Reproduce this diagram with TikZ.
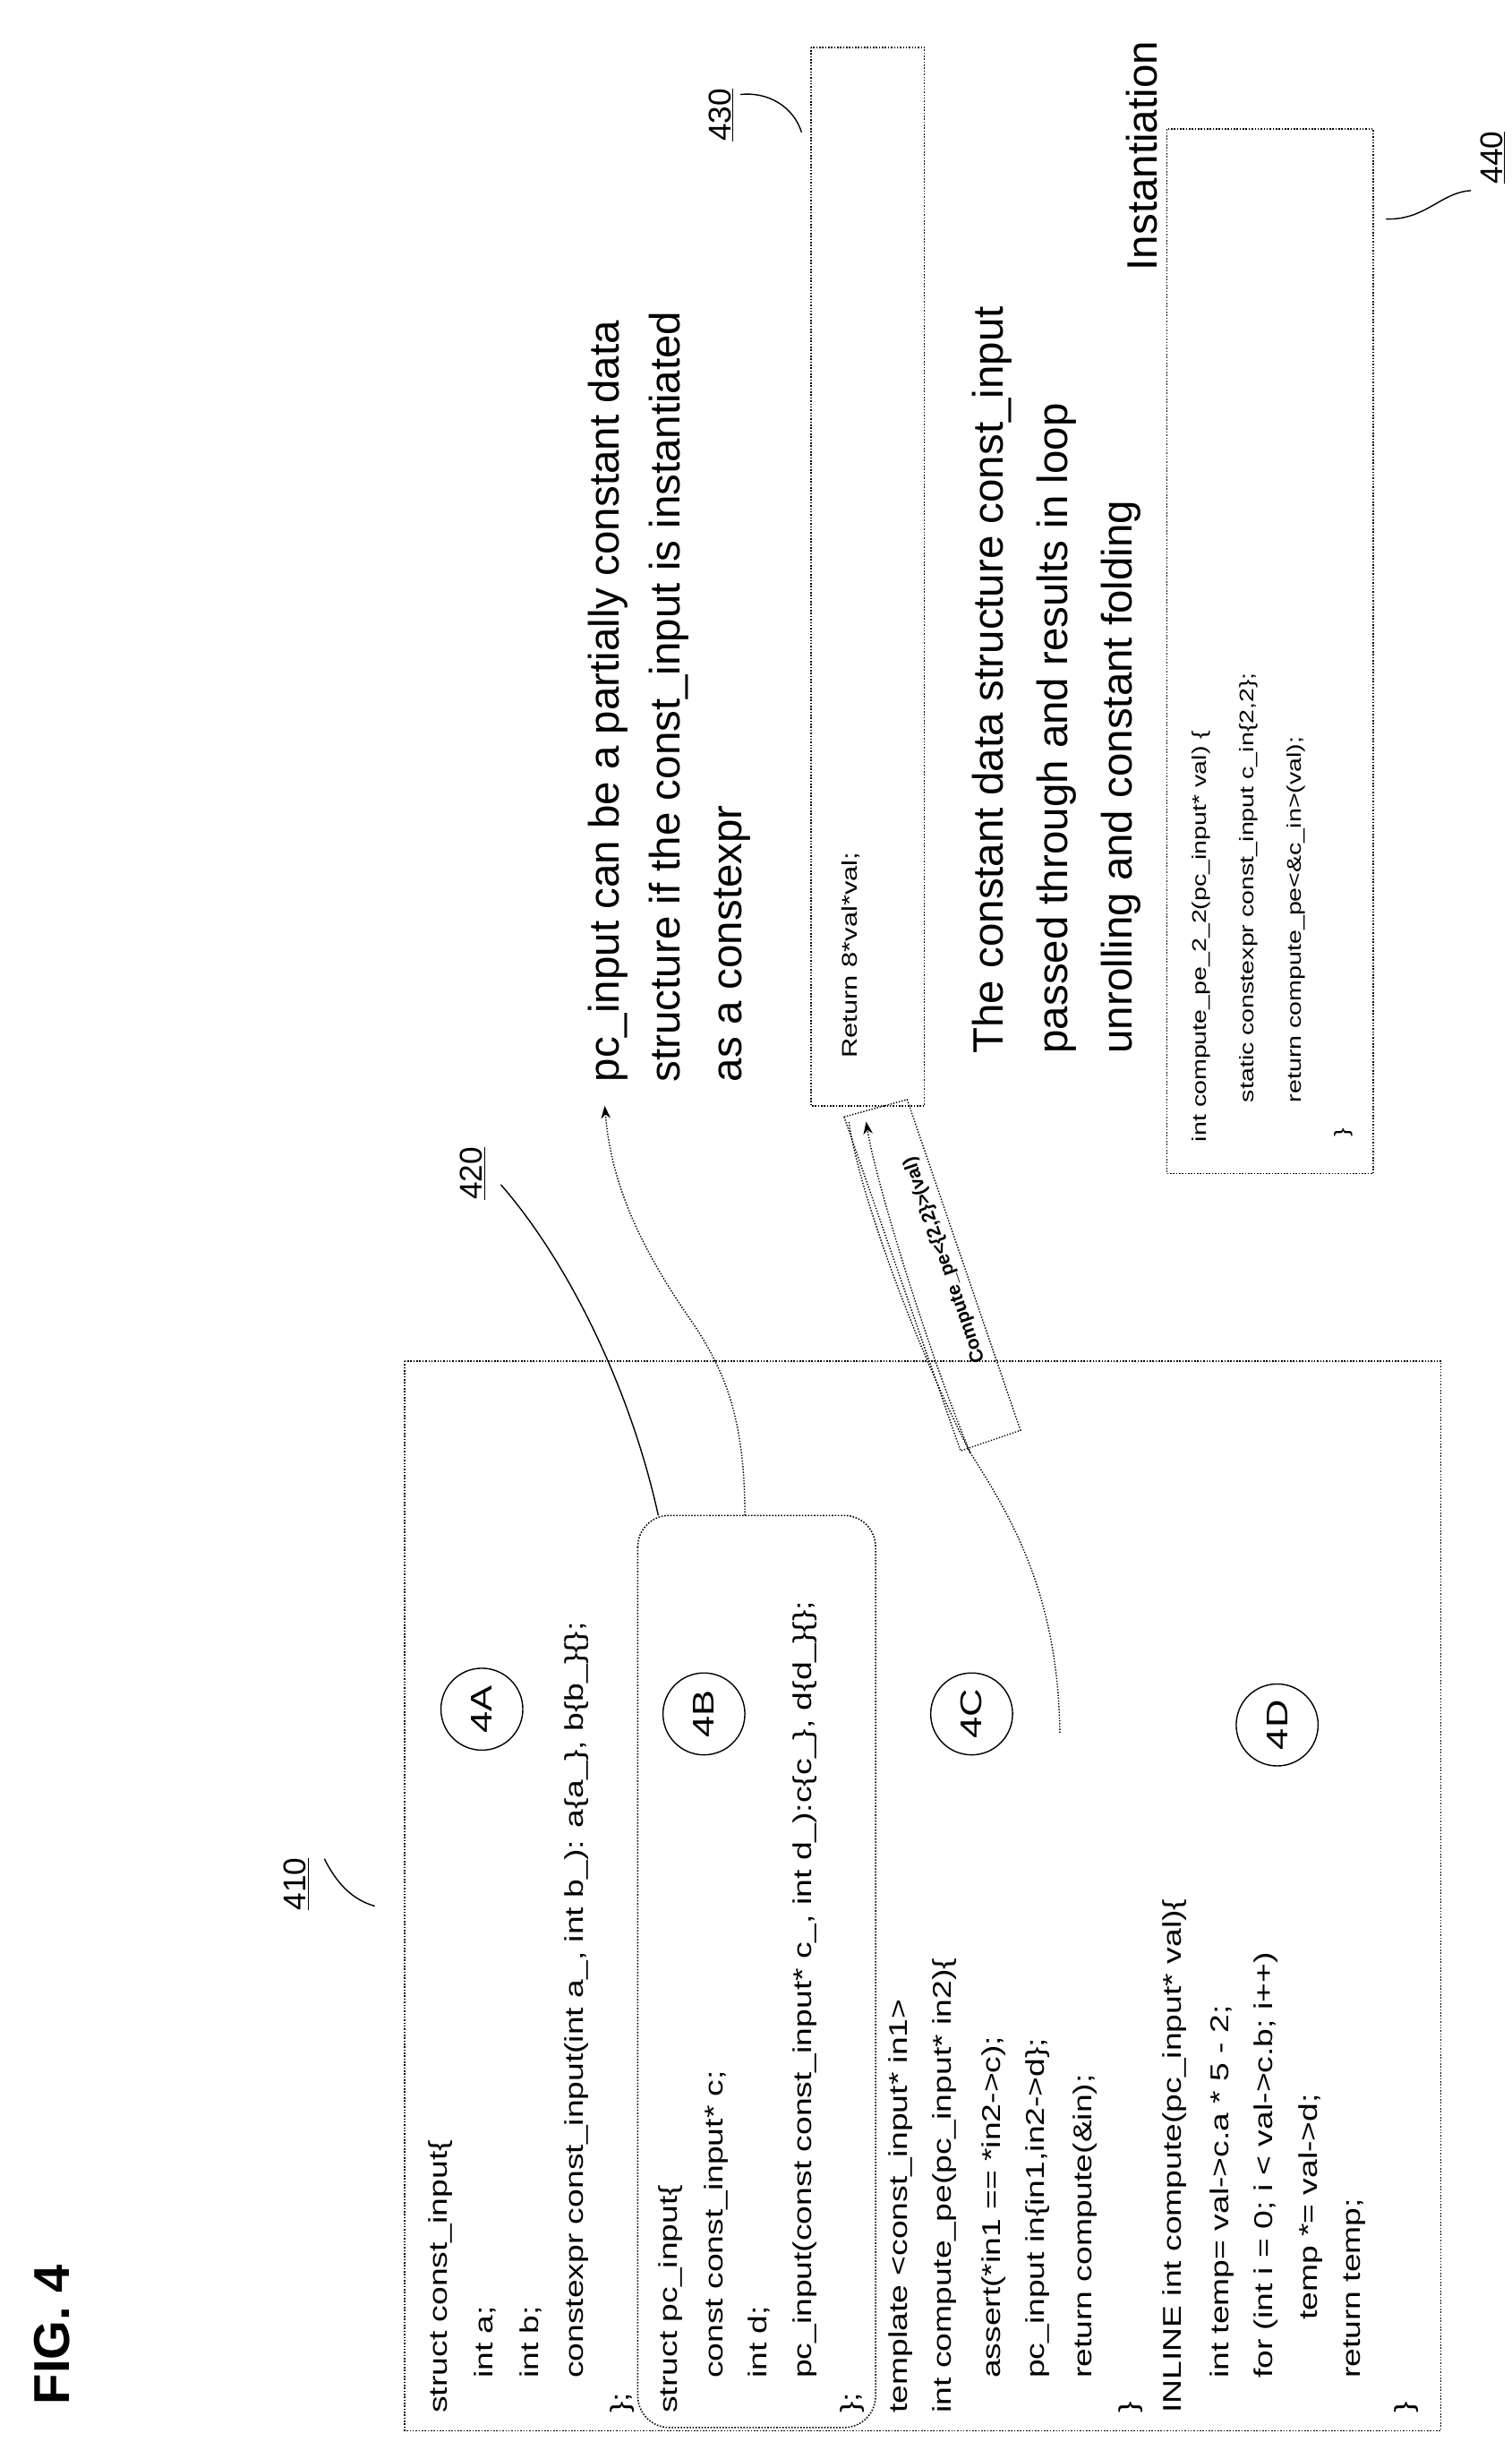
\documentclass[tikz,border=0pt]{standalone}
\usepackage{fontspec}
\setmainfont{Liberation Sans}
\newfontfamily\codefont[FakeStretch=1.3]{Liberation Sans}
\usetikzlibrary{arrows.meta}
\begin{document}
\begin{tikzpicture}[x=1pt,y=-1pt,
  box/.style={draw,densely dotted,line width=0.9pt},
  code/.style={rotate=90,anchor=west,inner sep=0pt,font=\codefont\fontsize{16.3}{18}\selectfont},
  code2/.style={rotate=90,anchor=west,inner sep=0pt,font=\codefont\fontsize{12.5}{14}\selectfont},
  note/.style={rotate=90,anchor=west,inner sep=0pt,font=\fontsize{27}{29}\selectfont},
  lab/.style={rotate=90,inner sep=0pt,font=\fontsize{20}{22}\selectfont},
  circ/.style={draw,circle,line width=0.8pt,minimum size=52pt,inner sep=0pt,rotate=90,font=\codefont\fontsize{19}{21}\selectfont},
  lead/.style={line width=0.8pt},
  dline/.style={densely dotted,line width=0.8pt}]
\useasboundingbox (0,0) rectangle (960,1561);
\node[rotate=90,font=\bfseries\fontsize{32}{34}\selectfont] (fig) at (33,1482) {FIG. 4};
% box 410
\draw[box] (257,864) rectangle (915,1543);
\node[lab] (l410) at (188,1196) {\underline{410}};
\draw[lead] (206,1180) .. controls (214,1196) and (224,1206) .. (238,1210);
% code lines
\node[code] (c1) at (280,1532) {struct const\_input\{};
\node[code] (c2) at (308,1510) {int a;};
\node[code] (c3) at (337,1510) {int b;};
\node[code] (c4) at (366,1510) {constexpr const\_input(int a\_, int b\_): a\{a\_\}, b\{b\_\}\{\};};
\node[code] (c5) at (395,1532) {\};};
\node[code] (c6) at (426,1532) {struct pc\_input\{};
\node[code] (c7) at (455,1510) {const const\_input* c;};
\node[code] (c8) at (482,1510) {int d;};
\node[code] (c9) at (511,1510) {pc\_input(const const\_input* c\_, int d\_):c\{c\_\}, d\{d\_\}\{\};};
\node[code] (c10) at (541,1532) {\};};
\node[code] (c11) at (572,1532) {template <const\_input* in1>};
\node[code] (c12) at (600,1532) {int compute\_pe(pc\_input* in2)\{};
\node[code] (c13) at (631,1510) {assert(*in1 == *in2->c);};
\node[code] (c14) at (659,1510) {pc\_input in\{in1,in2->d\};};
\node[code] (c15) at (689,1510) {return compute(\&in);};
\node[code] (c16) at (718,1532) {\}};
\node[code] (c17) at (746,1532) {INLINE int compute(pc\_input* val)\{};
\node[code] (c18) at (776,1510) {int temp= val->c.a * 5 - 2;};
\node[code] (c19) at (804,1510) {for (int i = 0; i < val->c.b; i++)};
\node[code] (c20) at (832,1473) {temp *= val->d;};
\node[code] (c21) at (860,1510) {return temp;};
\node[code] (c22) at (893,1532) {\}};
% circles
\node[circ] (c4A) at (306,1085) {4A};
\node[circ] (c4B) at (447,1088) {4B};
\node[circ] (c4C) at (617,1088) {4C};
\node[circ] (c4D) at (811,1095) {4D};
% 4B rounded box
\draw[box,rounded corners=20pt] (405,962) rectangle (556,1541);
\coordinate (bt1) at (418,962);
\coordinate (bt2) at (473,962);
% 420
\node[lab] (l420) at (300,745) {\underline{420}};
\draw[lead] (318,752) .. controls (360,800) and (400,880) .. (bt1);
% annotation 1
\node[note] (n1) at (386,687) {pc\_input can be a partially constant data};
\node[note] (n1b) at (425,687) {structure if the const\_input is instantiated};
\node[note] (n1c) at (465,687) {as a constexpr};
\draw[dline,-{Stealth[length=8pt,width=6pt]}] (bt2) .. controls (473,900) and (460,870) .. (440,840) .. controls (405,790) and (388,750) .. (384,702);
% box 430
\draw[box] (515,30) rectangle (587,702);
\node[code2,font=\codefont\fontsize{13.5}{15}\selectfont] (r430) at (540,672) {Return 8*val*val;};
\node[lab] (l430) at (458,73) {\underline{430}};
\draw[lead] (470,60) .. controls (488,58) and (504,68) .. (509,84);
% tag
\draw[dline] (536,709) -- (576,698) -- (648,908) -- (610,921) -- cycle;
\node[rotate=109,inner sep=0pt,font=\bfseries\fontsize{12}{14}\selectfont] (tag) at (600,800) {Compute\_pe<\{2,2\}>(val)};
\coordinate (cs) at (673,1100);
\coordinate (cj) at (616,922);
\draw[dline,-{Stealth[length=8pt,width=6pt]}] (cs) .. controls (672,1010) and (640,960) .. (cj) .. controls (590,860) and (556,750) .. (550,712);
\draw[dline] (cj) .. controls (584,860) and (546,760) .. (539,712);
% annotation 2
\node[note] (n2) at (630,669) {The constant data structure const\_input};
\node[note] (n2b) at (671,669) {passed through and results in loop};
\node[note] (n2c) at (712,669) {unrolling and constant folding};
\node[note] (inst) at (725,172) {Instantiation};
% box 440
\draw[box] (741,82) rectangle (872,745);
\node[code2] (d1) at (763,725) {int compute\_pe\_2\_2(pc\_input* val) \{};
\node[code2] (d2) at (793,700) {static constexpr const\_input c\_in\{2,2\};};
\node[code2] (d3) at (823,700) {return compute\_pe<\&c\_in>(val);};
\node[code2] (d4) at (853,722) {\}};
\node[lab] (l440) at (948,100) {\underline{440}};
\draw[lead] (934,121) .. controls (915,122) and (905,140) .. (880,139);
\end{tikzpicture}
\end{document}
